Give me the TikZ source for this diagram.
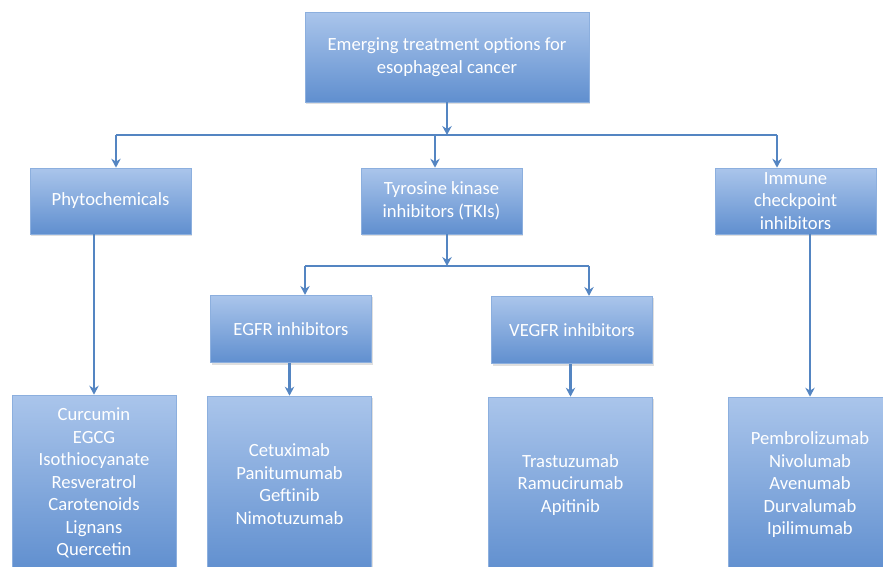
\documentclass[tikz,border=0pt]{standalone}
\usepackage{fontspec}
\setmainfont{Carlito}
\usetikzlibrary{arrows.meta,calc,positioning,shadows}

\definecolor{boxtop}{RGB}{170,197,235}
\definecolor{boxbot}{RGB}{96,143,207}
\definecolor{boxedge}{RGB}{140,175,222}
\definecolor{linkblue}{RGB}{84,133,194}

\begin{document}
\begin{tikzpicture}[
    x=0.02cm, y=-0.02cm,
    font=\fontsize{10.6}{12.8}\selectfont,
    box/.style      = {draw=boxedge, thin, top color=boxtop, bottom color=boxbot,
                       text=white, align=center, inner sep=2pt,
                       drop shadow={shadow xshift=0.6pt, shadow yshift=-1pt, opacity=0.25}},
    headbox/.style  = {box, minimum width=5.68cm, minimum height=1.8cm},
    groupbox/.style = {box, minimum width=3.22cm, minimum height=1.32cm},
    subbox/.style   = {box, minimum width=3.22cm, minimum height=1.35cm},
    listbox/.style  = {box, minimum width=3.28cm, minimum height=3.52cm},
    line/.style     = {draw=linkblue, line width=1.2pt},
    link/.style     = {line, -{Stealth[length=1.8mm, width=1.9mm, inset=0.6mm]}}
  ]

% page frame, the lowest boxes run off the bottom edge
\path[use as bounding box] (0,0) rectangle (883,566);
\clip (0,0) rectangle (883,566);

% =========================================================
% Boxes
% =========================================================
\node[headbox]  (top)    at (447,57)    {Emerging treatment options for\\esophageal cancer};

\node[groupbox] (phyto)  at (110.5,201) {Phytochemicals};
\node[groupbox] (tki)    at (441.5,201) {Tyrosine kinase\\inhibitors (TKIs)};
\node[groupbox] (immune) at (795.5,201) {Immune\\checkpoint\\inhibitors};

\node[subbox]   (egfr)   at (291,329)   {EGFR inhibitors};
\node[subbox]   (vegfr)  at (572,330)   {VEGFR inhibitors};

\node[listbox]  (phytolist)   at (94,483)    {Curcumin\\EGCG\\Isothiocyanate\\Resveratrol\\Carotenoids\\Lignans\\Quercetin};
\node[listbox]  (egfrlist)    at (289.5,484) {Cetuximab\\Panitumumab\\Geftinib\\Nimotuzumab};
\node[listbox]  (vegfrlist)   at (570.5,485) {Trastuzumab\\Ramucirumab\\Apitinib};
\node[listbox]  (immunelist)  at (810,485)   {Pembrolizumab\\Nivolumab\\Avenumab\\Durvalumab\\Ipilimumab};

% =========================================================
% Connectors
% =========================================================
% first split
\coordinate (jTop) at (447,135);
\coordinate (jL)   at (116,135);
\coordinate (jM)   at (435,135);
\coordinate (jR)   at (777,135);

\draw[link] (top.south -| jTop) -- (jTop);
\draw[line] (jL) -- (jR);
\draw[link] (jL) -- (jL |- phyto.north);
\draw[link] (jM) -- (jM |- tki.north);
\draw[link] (jR) -- (jR |- immune.north);

% split below the TKIs
\coordinate (kTop) at (447,266);
\coordinate (kL)   at (305,266);
\coordinate (kR)   at (589,266);

\draw[link] (tki.south -| kTop) -- (kTop);
\draw[line] (kL) -- (kR);
\draw[link] (kL) -- (kL |- egfr.north);
\draw[link] (kR) -- (kR |- vegfr.north);

% down to the lists
\draw[link] (phyto.south -| phytolist.north)   -- (phytolist.north);
\draw[link] (egfr.south -| egfrlist.north)     -- (egfrlist.north);
\draw[link] (vegfr.south -| vegfrlist.north)   -- (vegfrlist.north);
\draw[link] (immune.south -| immunelist.north) -- (immunelist.north);

\end{tikzpicture}
\end{document}
